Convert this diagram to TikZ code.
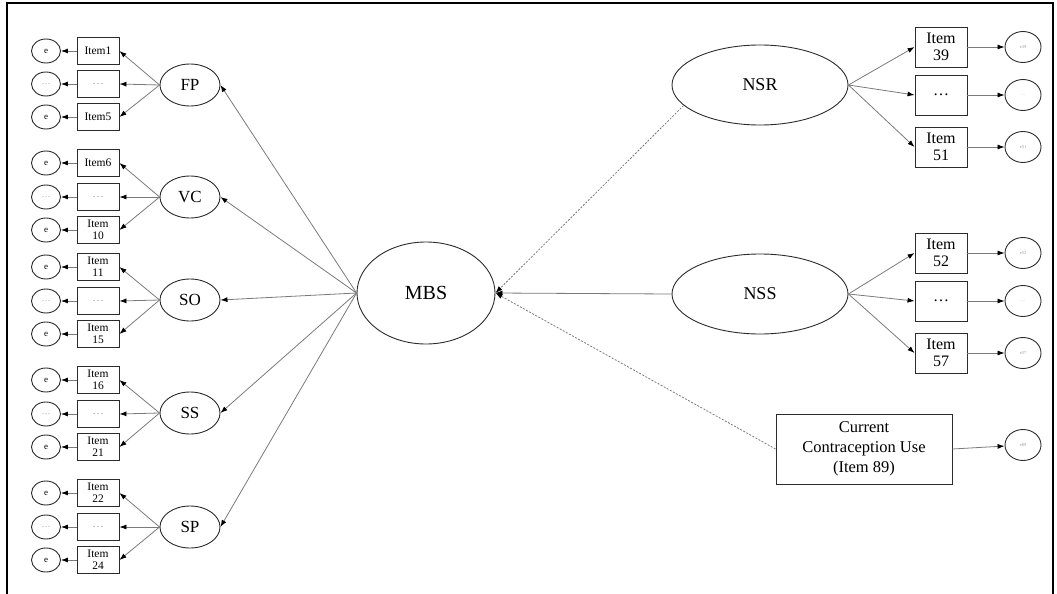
\documentclass[tikz,border=0pt]{standalone}
\usepackage{fontspec}
\setmainfont{Liberation Serif}
\usepackage{xcolor}
\usetikzlibrary{arrows.meta,shapes.geometric}
\definecolor{ink}{HTML}{2B2B2B}
\definecolor{muted}{HTML}{7A7A7A}
\definecolor{faint}{HTML}{9A9A9A}

\begin{document}
\begin{tikzpicture}[x=1pt,y=-1pt,every node/.style={inner sep=0pt,align=center},
  lv/.style={ellipse,draw=ink,line width=0.9pt,minimum width=60pt,minimum height=42pt,font=\fontsize{17}{17}\selectfont},
  big/.style={ellipse,draw=ink,line width=0.9pt,minimum width=176pt,minimum height=80pt,font=\fontsize{18}{18}\selectfont},
  ob/.style={draw=ink,line width=0.9pt,minimum width=42pt,minimum height=27pt,font=\fontsize{11.5}{12}\selectfont},
  rb/.style={draw=ink,line width=0.9pt,minimum width=52pt,minimum height=40pt,font=\fontsize{16}{17}\selectfont},
  er/.style={ellipse,draw=ink,line width=0.9pt,minimum width=29pt,minimum height=24pt,font=\fontsize{9}{9}\selectfont},
  ec/.style={ellipse,draw=ink,line width=0.9pt,minimum width=36pt,minimum height=31pt,font=\fontsize{4.5}{5}\selectfont,text=faint},
  a/.style={-{Latex[length=7pt,width=5pt,black]},draw=muted,line width=0.8pt},
  dl/.style={a,dash pattern=on 2pt off 1.5pt}]
  \useasboundingbox (0,0) rectangle (1057,594);
  \draw[line width=2pt] (7,594) -- (7,3) -- (1053,3) -- (1053,594);
  % centre
  \node[ellipse,draw=ink,line width=0.9pt,minimum width=138pt,minimum height=102pt,font=\fontsize{20}{20}\selectfont] (mbs) at (426,293) {MBS};
  % FP
  \node[lv] (fp) at (190,85) {FP};
  \node[ob] (fp1) at (98,51) {Item1}; \node[ob] (fp2) at (98,84) {\textcolor{faint}{\ldots}}; \node[ob] (fp3) at (98,117) {Item5};
  \node[er] (efp1) at (46,51) {e}; \node[er] (efp2) at (46,84) {\textcolor{faint}{\ldots}}; \node[er] (efp3) at (46,117) {e};
  % VC
  \node[lv] (vc) at (190,197) {VC};
  \node[ob] (vc1) at (98,163) {Item6}; \node[ob] (vc2) at (98,197) {\textcolor{faint}{\ldots}}; \node[ob] (vc3) at (98,230) {Item\\10};
  \node[er] (evc1) at (46,163) {e}; \node[er] (evc2) at (46,197) {\textcolor{faint}{\ldots}}; \node[er] (evc3) at (46,230) {e};
  % SO
  \node[lv] (so) at (190,300) {SO};
  \node[ob] (so1) at (98,267) {Item\\11}; \node[ob] (so2) at (98,301) {\textcolor{faint}{\ldots}}; \node[ob] (so3) at (98,334) {Item\\15};
  \node[er] (eso1) at (46,267) {e}; \node[er] (eso2) at (46,301) {\textcolor{faint}{\ldots}}; \node[er] (eso3) at (46,334) {e};
  % SS
  \node[lv] (ss) at (190,413) {SS};
  \node[ob] (ss1) at (98,380) {Item\\16}; \node[ob] (ss2) at (98,414) {\textcolor{faint}{\ldots}}; \node[ob] (ss3) at (98,447) {Item\\21};
  \node[er] (ess1) at (46,380) {e}; \node[er] (ess2) at (46,414) {\textcolor{faint}{\ldots}}; \node[er] (ess3) at (46,447) {e};
  % SP
  \node[lv] (sp) at (190,527) {SP};
  \node[ob] (sp1) at (98,493) {Item\\22}; \node[ob] (sp2) at (98,527) {\textcolor{faint}{\ldots}}; \node[ob] (sp3) at (98,560) {Item\\24};
  \node[er] (esp1) at (46,493) {e}; \node[er] (esp2) at (46,527) {\textcolor{faint}{\ldots}}; \node[er] (esp3) at (46,560) {e};
  % right side
  \node[big] (nsr) at (760,85) {NSR};
  \node[rb] (nsr1) at (941,47) {Item\\39}; \node[rb] (nsr2) at (941,95) {\ldots}; \node[rb] (nsr3) at (941,147) {Item\\51};
  \node[ec] (ensr1) at (1023,47) {e39}; \node[ec] (ensr2) at (1023,95) {\ldots}; \node[ec] (ensr3) at (1023,147) {e51};
  \node[big] (nss) at (760,294) {NSS};
  \node[rb] (nss1) at (941,253) {Item\\52}; \node[rb] (nss2) at (941,301) {\ldots}; \node[rb] (nss3) at (941,353) {Item\\57};
  \node[ec] (enss1) at (1023,253) {e52}; \node[ec] (enss2) at (1023,301) {\ldots}; \node[ec] (enss3) at (1023,353) {e57};
  \node[draw=ink,line width=0.9pt,minimum width=176pt,minimum height=70pt,font=\fontsize{16.5}{20}\selectfont] (ccu) at (864,449) {Current\\Contraception Use\\(Item 89)};
  \node[ec] (eccu) at (1023,445) {e89};
  % paths
  \foreach \g in {fp,vc,so,ss,sp} {
    \draw[a] (mbs.west) -- (\g.east);
    \foreach \i in {1,2,3} {\draw[a] (\g.west) -- (\g\i.east); \draw[a] (\g\i) -- (e\g\i);}
  }
  \foreach \g in {nsr,nss} {
    \foreach \i in {1,2,3} {\draw[a] (\g.east) -- (\g\i.west); \draw[a] (\g\i) -- (e\g\i);}
  }
  \draw[a] (ccu.east) -- (eccu);
  \draw[a] (nss.west) -- (mbs.east);
  \draw[dl] (nsr.195) -- (mbs.east); \draw[dl] (ccu.west) -- (mbs.east);
\end{tikzpicture}
\end{document}
